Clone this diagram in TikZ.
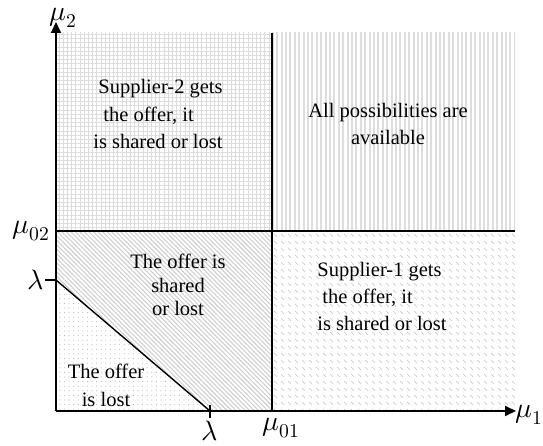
\documentclass[tikz,border=0pt]{standalone}
\usepackage{fontspec}
\usepackage{unicode-math}
\setmainfont{Liberation Serif}
\setmathfont{Latin Modern Math}
\usetikzlibrary{arrows.meta,patterns.meta,positioning,calc}
\definecolor{zonegrid}{HTML}{DCDCDC}
\definecolor{zonestripe}{HTML}{DDDDDD}
\definecolor{zonehatch}{HTML}{CFCFCF}
\definecolor{zonedot}{HTML}{B4B4B4}
\definecolor{zonedash}{HTML}{CCCCCC}
\pgfdeclarepattern{
  name=ShortDash,type=uncolored,
  bottom left={\pgfpoint{0pt}{0pt}},top right={\pgfpoint{6.5pt}{6.5pt}},
  tile size={\pgfpoint{6.5pt}{6.5pt}},
  code={\pgfsetlinewidth{0.7pt}\pgfpathmoveto{\pgfpoint{1.2pt}{5.3pt}}\pgfpathlineto{\pgfpoint{4.2pt}{2.3pt}}\pgfusepath{stroke}}
}
\tikzset{
  gridzone/.style={pattern={Hatch[angle=0,distance=4.2pt,line width=0.6pt]},pattern color=zonegrid},
  stripezone/.style={pattern={Lines[angle=90,distance=4.4pt,line width=2pt]},pattern color=zonestripe},
  hatchzone/.style={pattern={Lines[angle=-45,distance=3.2pt,line width=1.1pt]},pattern color=zonehatch},
  dotzone/.style={pattern={Dots[distance=4.6pt,radius=0.55pt]},pattern color=zonedot},
  dashzone/.style={pattern=ShortDash,pattern color=zonedash},
  axisline/.style={line width=1.8pt,-{Triangle[length=11pt,width=10pt]}},
  boundary/.style={line width=1.4pt},
  tickmark/.style={line width=1.2pt},
  zonetext/.style={font=\fontsize{20.5}{27.5}\selectfont,inner sep=0pt},
  axlabel/.style={font=\fontsize{28}{30}\selectfont,inner sep=0.5pt},
}
\begin{document}
\begin{tikzpicture}[x=1pt,y=1pt]
  \useasboundingbox (0,0) rectangle (543,446);
  \coordinate (O) at (56,35);
  \coordinate (ytip) at (56,424);
  \coordinate (xtip) at (516,35);
  \coordinate (m02) at (56,215);
  \coordinate (m02r) at (515,215);
  \coordinate (m01) at (272,35);
  \coordinate (m01t) at (272,413);
  \coordinate (ly) at (56,166);
  \coordinate (lx) at (210,35);
  \coordinate (lya) at (45,166);
  \coordinate (lxa) at (210,41);
  \coordinate (lxb) at (210,28);
  % regions
  \fill[gridzone] (m02) rectangle (m01t);
  \fill[stripezone] (272,215) rectangle (515,413);
  \fill[hatchzone] (ly) -- (m02) -- (272,215) -- (m01) -- (lx) -- cycle;
  \fill[dotzone] (O) -- (ly) -- (lx) -- cycle;
  \fill[dashzone] (m01) rectangle (m02r);
  % boundaries
  \draw[boundary] (m02) -- (m02r);
  \draw[boundary] (m01) -- (m01t);
  \draw[boundary] (ly) -- (lx);
  \draw[axisline] (O) -- (ytip);
  \draw[axisline] (O) -- (xtip);
  \draw[tickmark] (lya) -- (ly);
  \draw[tickmark] (lxa) -- (lxb);
  % axis labels
  \node[axlabel] (mu2) at (63,428) {$\mu_2$};
  \node[axlabel,anchor=west] (mu1) at (515,31) {$\mu_1$};
  \node[axlabel,anchor=east] (mu02) at (50,215) {$\mu_{02}$};
  \node[axlabel] (mu01) at (281,18) {$\mu_{01}$};
  \node[axlabel,anchor=east] (lamy) at (lya) {$\lambda$};
  \node[axlabel,anchor=north] (lamx) at (210,26) {$\lambda$};
  % zone texts
  \node[zonetext,align=left] (sup2) at (158,332) {\hspace*{5pt}Supplier-2 gets\\\hspace*{10pt}the offer, it\\is shared or lost};
  \node[zonetext,align=center] (allp) at (388,322) {All possibilities are\\available};
  \node[zonetext,align=center,font=\fontsize{20.5}{23.5}\selectfont] (shared) at (178,161) {The offer is\\shared\\or lost};
  \node[zonetext,align=center,font=\fontsize{20.5}{28}\selectfont] (lost) at (106,61) {The offer\\is lost};
  \node[zonetext,align=left,font=\fontsize{20.5}{27}\selectfont] (sup1) at (382,150) {Supplier-1 gets\\\hspace*{5pt}the offer, it\\is shared or lost};
\end{tikzpicture}
\end{document}
